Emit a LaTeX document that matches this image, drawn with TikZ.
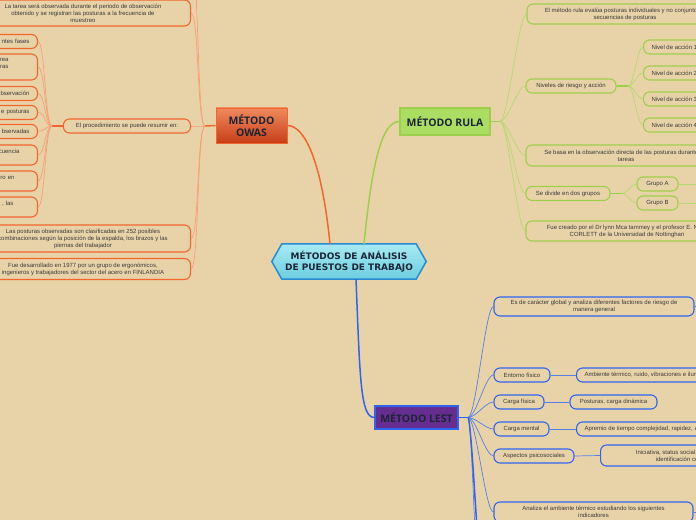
\documentclass[tikz,border=0pt]{standalone}
\usepackage{fontspec}
\setmainfont{Liberation Sans}
\newfontfamily\titlefont{Open Sans}
\newfontfamily\hexfont{DejaVu Sans}
\usetikzlibrary{backgrounds}

\definecolor{bg}{HTML}{E8D3A9}
\definecolor{txt}{HTML}{3A3A3A}
\definecolor{titletxt}{HTML}{1C2536}
\definecolor{owasedge}{HTML}{F2652F}
\definecolor{owasthin}{HTML}{F5A07A}
\definecolor{owastop}{HTML}{F08A5E}
\definecolor{owasbot}{HTML}{C73E17}
\definecolor{rulaedge}{HTML}{9DCF4C}
\definecolor{rulathin}{HTML}{B5D870}
\definecolor{rulafill}{HTML}{ABDD62}
\definecolor{lestedge}{HTML}{2F64F0}
\definecolor{lestthin}{HTML}{5580E8}
\definecolor{lestfill}{HTML}{652D90}
\definecolor{hextop}{HTML}{A8EAF3}
\definecolor{hexbot}{HTML}{6CCEDF}
\definecolor{hexedge}{HTML}{2A8AD2}

\begin{document}
\begin{tikzpicture}[x=1bp,y=-1bp,
    every node/.style={font=\fontsize{6}{7}\selectfont, text=txt},
    leaf/.style={rounded corners=6bp, fill=bg, line width=1.1bp, align=center,
      minimum height=14bp, inner xsep=8bp, inner ysep=2bp},
    owasbox/.style={leaf, draw=owasedge},
    rulabox/.style={leaf, draw=rulaedge},
    lestbox/.style={leaf, draw=lestedge},
    cutbox/.style={owasbox, anchor=east, text width=70bp, align=right},
    titlebox/.style={font=\titlefont\bfseries\fontsize{10.5}{11.5}\selectfont,
      text=titletxt, align=center, inner sep=0pt},
    owasln/.style={draw=owasthin, line width=0.7bp},
    rulaln/.style={draw=rulathin, line width=0.7bp},
    lestln/.style={draw=lestthin, line width=0.7bp},
    owasthick/.style={draw=owasedge, line width=1.5bp},
    rulathick/.style={draw=rulaedge, line width=1.5bp},
    lestthick/.style={draw=lestedge, line width=1.5bp}]
  \useasboundingbox (0,0) rectangle (696,520);
  \clip (0,0) rectangle (696,520);

  % centre
  \node[font=\hexfont\bfseries\fontsize{9}{11}\selectfont, text=titletxt, align=center,
    minimum width=134bp, minimum height=35bp, inner sep=0pt] (central) at (349,261.5)
    {MÉTODOS DE ANÁLISIS\\DE PUESTOS DE TRABAJO};
  \begin{scope}[on background layer]
    \fill[bg] (0,0) rectangle (696,520);
    \shadedraw[top color=hextop, bottom color=hexbot, draw=hexedge, line width=1.5bp]
      (central.north west) -- (central.north east) -- ([xshift=10bp]central.east)
      -- (central.south east) -- (central.south west) -- ([xshift=-10bp]central.west) -- cycle;
  \end{scope}

  % main branches
  \node[titlebox, top color=owastop, bottom color=owasbot, draw=owasedge, line width=0.8bp,
    minimum width=71bp, minimum height=35bp] (owas) at (251.5,125.5) {MÉTODO\\OWAS};
  \node[titlebox, fill=rulafill, draw=rulaedge, line width=1.2bp,
    minimum width=90bp, minimum height=27bp] (rula) at (445,121.5) {MÉTODO RULA};
  \node[titlebox, fill=lestfill, draw=lestedge, line width=1.2bp,
    minimum width=83bp, minimum height=23bp] (lest) at (416.5,417.5) {MÉTODO LEST};

  \draw[owasthick] ([xshift=-19bp]central.north) .. controls +(-8,-80) and +(18,0) .. (owas.east);
  \draw[rulathick] ([xshift=15bp]central.north) .. controls +(8,-80) and +(-18,0) .. (rula.west);
  \draw[lestthick] ([xshift=7bp]central.south) .. controls +(4,100) and +(-14,0) .. (lest.west);

  % OWAS
  \node[owasbox, anchor=east, minimum width=215bp, minimum height=26bp] (o1) at (191,13)
    {La tarea será observada durante el periodo\ de observación\\obtenido y se registran las posturas\ a la frecuencia de\\muestreo};
  \node[owasbox, anchor=east, minimum width=127bp] (o2) at (191,126) {El procedimiento se puede resumir en:};
  \node[owasbox, anchor=east, minimum width=215bp, minimum height=27bp] (o3) at (191,238.5)
    {Las posturas observadas son clasificadas en 252 posibles\\combinaciones según la posición de la espalda, los brazos y las\\piernas del trabajador};
  \node[owasbox, anchor=east, minimum width=215bp, minimum height=21bp] (o4) at (191,269)
    {Fue desarrollado en 1977 por un grupo de ergonómicos,\\ingenieros y trabajadores del sector del acero en FINLANDIA};
  \coordinate (oj) at (205,126);
  \coordinate (otop) at (191,-40);
  \draw[owasthick] (owas.west) -- (oj);
  \foreach \n in {o1,o2,o3,o4}
    \draw[owasln] (oj) .. controls +(-8,0) and +(8,0) .. (\n.east);
  \draw[owasln] (oj) .. controls +(-8,0) and +(8,0) .. (otop);

  \node[cutbox] (p1) at (38,41.5) {ntes fases};
  \node[cutbox, minimum height=26bp] (p2) at (38,67) {rea\mbox{\hspace{21bp}}\\ras\mbox{\hspace{21bp}}\\\mbox{}};
  \node[cutbox] (p3) at (38,93.5) {bservación};
  \node[cutbox] (p4) at (38,112.5) {e posturas};
  \node[cutbox] (p5) at (38,131.5) {bservadas};
  \node[cutbox, minimum height=20bp] (p6) at (38,155) {cuencia\mbox{\hspace{10bp}}\\\mbox{}};
  \node[cutbox, minimum height=20bp] (p7) at (38,181) {ro en\mbox{\hspace{15bp}}\\\mbox{}};
  \node[cutbox, minimum height=20bp] (p8) at (38,207) {, las\mbox{\hspace{16bp}}\\\mbox{}};
  \coordinate (pj) at (52,126);
  \draw[owasthick] (o2.west) -- (pj);
  \foreach \n in {p1,p2,p3,p4,p5,p6,p7,p8}
    \draw[owasln] (pj) .. controls +(-7,0) and +(7,0) .. (\n.east);

  % RULA
  \node[rulabox, minimum width=196bp, minimum height=20bp] (r1) at (625,14)
    {El método rula evalúa posturas individuales y no conjuntos o\\secuencias de posturas};
  \node[rulabox, minimum width=90bp] (r2) at (571,86) {Niveles de riesgo y acción};
  \node[rulabox, minimum width=200bp, minimum height=21bp] (r3) at (626,155.5)
    {Se basa en la observación directa de las posturas durante las\\tareas};
  \node[rulabox, minimum width=84bp] (r4) at (568,193.5) {Se divide en dos grupos};
  \node[rulabox, minimum width=202bp, minimum height=20bp] (r5) at (627,231)
    {Fue creado por el Dr lynn Mca tammey y el profesor E. Nigel\\CORLETT de la Universidad de Nottinghan};
  \coordinate (rj) at (500,121.5);
  \draw[rulathick] (rula.east) -- (rj);
  \foreach \n in {r1,r2,r3,r4,r5}
    \draw[rulaln] (rj) .. controls +(8,0) and +(-8,0) .. (\n.west);

  \foreach \k/\y in {1/47,2/73,3/99,4/125}
    \node[rulabox, anchor=west] (n\k) at (643,\y) {Nivel de acción \k};
  \coordinate (nj) at (628,86);
  \draw[rulathick] (r2.east) -- (nj);
  \foreach \n in {n1,n2,n3,n4}
    \draw[rulaln] (nj) .. controls +(6,0) and +(-6,0) .. (\n.west);

  \node[rulabox, minimum width=41bp] (ga) at (657.5,184) {Grupo A};
  \node[rulabox, minimum width=41bp] (gb) at (657.5,203) {Grupo B};
  \coordinate (gj) at (622,193.5);
  \coordinate (gaend) at (720,184);
  \coordinate (gbend) at (720,203);
  \draw[rulathick] (r4.east) -- (gj);
  \foreach \n in {ga,gb}
    \draw[rulaln] (gj) .. controls +(6,0) and +(-6,0) .. (\n.west);
  \draw[rulaln] (ga.east) -- (gaend);
  \draw[rulaln] (gb.east) -- (gbend);

  % LEST
  \node[lestbox, minimum width=200bp, minimum height=19bp] (l1) at (594,306.5)
    {Es de carácter global y analiza diferentes factores de riesgo de\\manera general};
  \node[lestbox, minimum width=56bp] (l2) at (522,375) {Entorno físico};
  \node[lestbox, anchor=west] (l2c) at (576,375) {Ambiente térmico, ruido, vibraciones e iluminación};
  \node[lestbox, minimum width=50bp] (l3) at (519,402) {Carga física};
  \node[lestbox, minimum width=87bp] (l3c) at (613.5,402) {Posturas, carga dinámica};
  \node[lestbox, minimum width=55bp] (l4) at (521.5,429) {Carga mental};
  \node[lestbox, anchor=west] (l4c) at (576,429) {Apremio de tiempo complejidad, rapidez, atención};
  \node[lestbox, minimum width=80bp] (l5) at (534,456) {Aspectos psicosociales};
  \node[lestbox, anchor=west, minimum width=178bp, minimum height=21bp] (l5c) at (600,455.5)
    {Iniciativa, status social, comunicaciones,\\identificación con la tarea};
  \node[lestbox, minimum width=199bp, minimum height=20bp] (l6) at (593.5,512)
    {Analiza el ambiente térmico estudiando los siguientes\\indicadores};
  \coordinate (lj) at (468,417.5);
  \coordinate (lx1) at (480,600);
  \coordinate (lx2) at (486,640);
  \coordinate (l1end) at (720,306.5);
  \coordinate (l6end) at (720,512);
  \draw[lestthick] (lest.east) -- (lj);
  \foreach \n in {l1,l2,l3,l4,l5,l6}
    \draw[lestln] (lj) .. controls +(8,0) and +(-8,0) .. (\n.west);
  \draw[lestln] (lj) .. controls +(4,0) and +(-4,0) .. (lx1);
  \draw[lestthick] (lj) .. controls +(4,0) and +(-4,0) .. (lx2);
  \foreach \a/\b in {l2/l2c,l3/l3c,l4/l4c,l5/l5c}
    \draw[lestln] (\a.east) -- (\b.west);
  \draw[lestln] (l1.east) -- (l1end);
  \draw[lestln] (l6.east) -- (l6end);
\end{tikzpicture}
\end{document}
